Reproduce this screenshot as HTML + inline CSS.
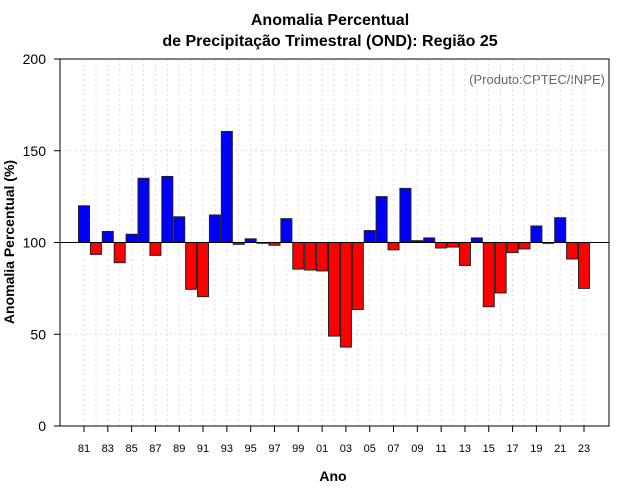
<!DOCTYPE html>
<html><head><meta charset="utf-8"><style>
body{margin:0;background:#fff;}
svg{display:block;font-family:"Liberation Sans",sans-serif;}
</style></head><body>
<svg id="chart" width="640" height="500">
<text x="330" y="25" text-anchor="middle" font-size="16" font-weight="bold">Anomalia Percentual</text>
<text x="330" y="46" text-anchor="middle" font-size="16" font-weight="bold">de Precipitação Trimestral (OND): Região 25</text>
<text x="605" y="84" text-anchor="end" font-size="13" fill="#666">(Produto:CPTEC/INPE)</text>
<text x="333" y="481" text-anchor="middle" font-size="14" font-weight="bold">Ano</text>
<text transform="translate(14,242) rotate(-90)" text-anchor="middle" font-size="14" font-weight="bold">Anomalia Percentual (%)</text>
<g id="grid"></g><g id="bars"></g><g id="axes"></g>
<rect x="60" y="59" width="549" height="367" fill="none" stroke="#000"/>
</svg>
<script>
const years=[1981,1982,1983,1984,1985,1986,1987,1988,1989,1990,1991,1992,1993,1994,1995,1996,1997,1998,1999,2000,2001,2002,2003,2004,2005,2006,2007,2008,2009,2010,2011,2012,2013,2014,2015,2016,2017,2018,2019,2020,2021,2022,2023];
const values=[120,93.5,106,89,104.5,135,93,136,114,74.5,70.5,115,160.5,99,102,99.7,98.5,113,85.5,85,84.5,49,43,63.5,106.5,125,96,129.5,101,102.5,97,97.5,87.5,102.5,65,72.5,94.5,96.5,109,99.8,113.5,91,75];
const yTicks=[0,50,100,150,200];
const NS="http://www.w3.org/2000/svg";
const X=y=>84+(y-1981)*(500/42);
const Y=v=>426-v*(367/200);
function mk(t,a,p){const e=document.createElementNS(NS,t);for(const k in a)e.setAttribute(k,a[k]);p.appendChild(e);return e;}
const grid=document.getElementById('grid'),bars=document.getElementById('bars'),axes=document.getElementById('axes');
years.forEach(y=>{const l=mk('line',{x1:X(y),x2:X(y),y1:59,y2:426,stroke:'#ddd','stroke-dasharray':'2,3'},grid);

});
yTicks.forEach(v=>{if(v>0&&v<200){const l=mk('line',{x1:60,x2:609,y1:Y(v),y2:Y(v),stroke:'#ddd','stroke-dasharray':'2,3'},grid);

}
const t=mk('line',{x1:54,x2:60,y1:Y(v),y2:Y(v),stroke:'#000'},axes);


const tx=mk('text',{x:46,y:Y(v)+5,'text-anchor':'end','font-size':14},axes);tx.textContent=v;

});
years.forEach((y,i)=>{const v=values[i];const top=Y(Math.max(v,100)),bot=Y(Math.min(v,100));
const r=mk('rect',{x:X(y)-5.5,y:top,width:11,height:Math.max(bot-top,0.8),fill:v>=100?'#0000ff':'#ff0000',stroke:'#222','stroke-width':1},bars);


if((y-1981)%2===0){const t=mk('line',{x1:X(y),x2:X(y),y1:426,y2:432,stroke:'#000'},axes);


const tx=mk('text',{x:X(y),y:452,'text-anchor':'middle','font-size':11},axes);tx.textContent=String(y%100).padStart(2,'0');

}});
const ref=mk('line',{x1:60,x2:609,y1:Y(100),y2:Y(100),stroke:'#000'},axes);


</script>
</body></html>
